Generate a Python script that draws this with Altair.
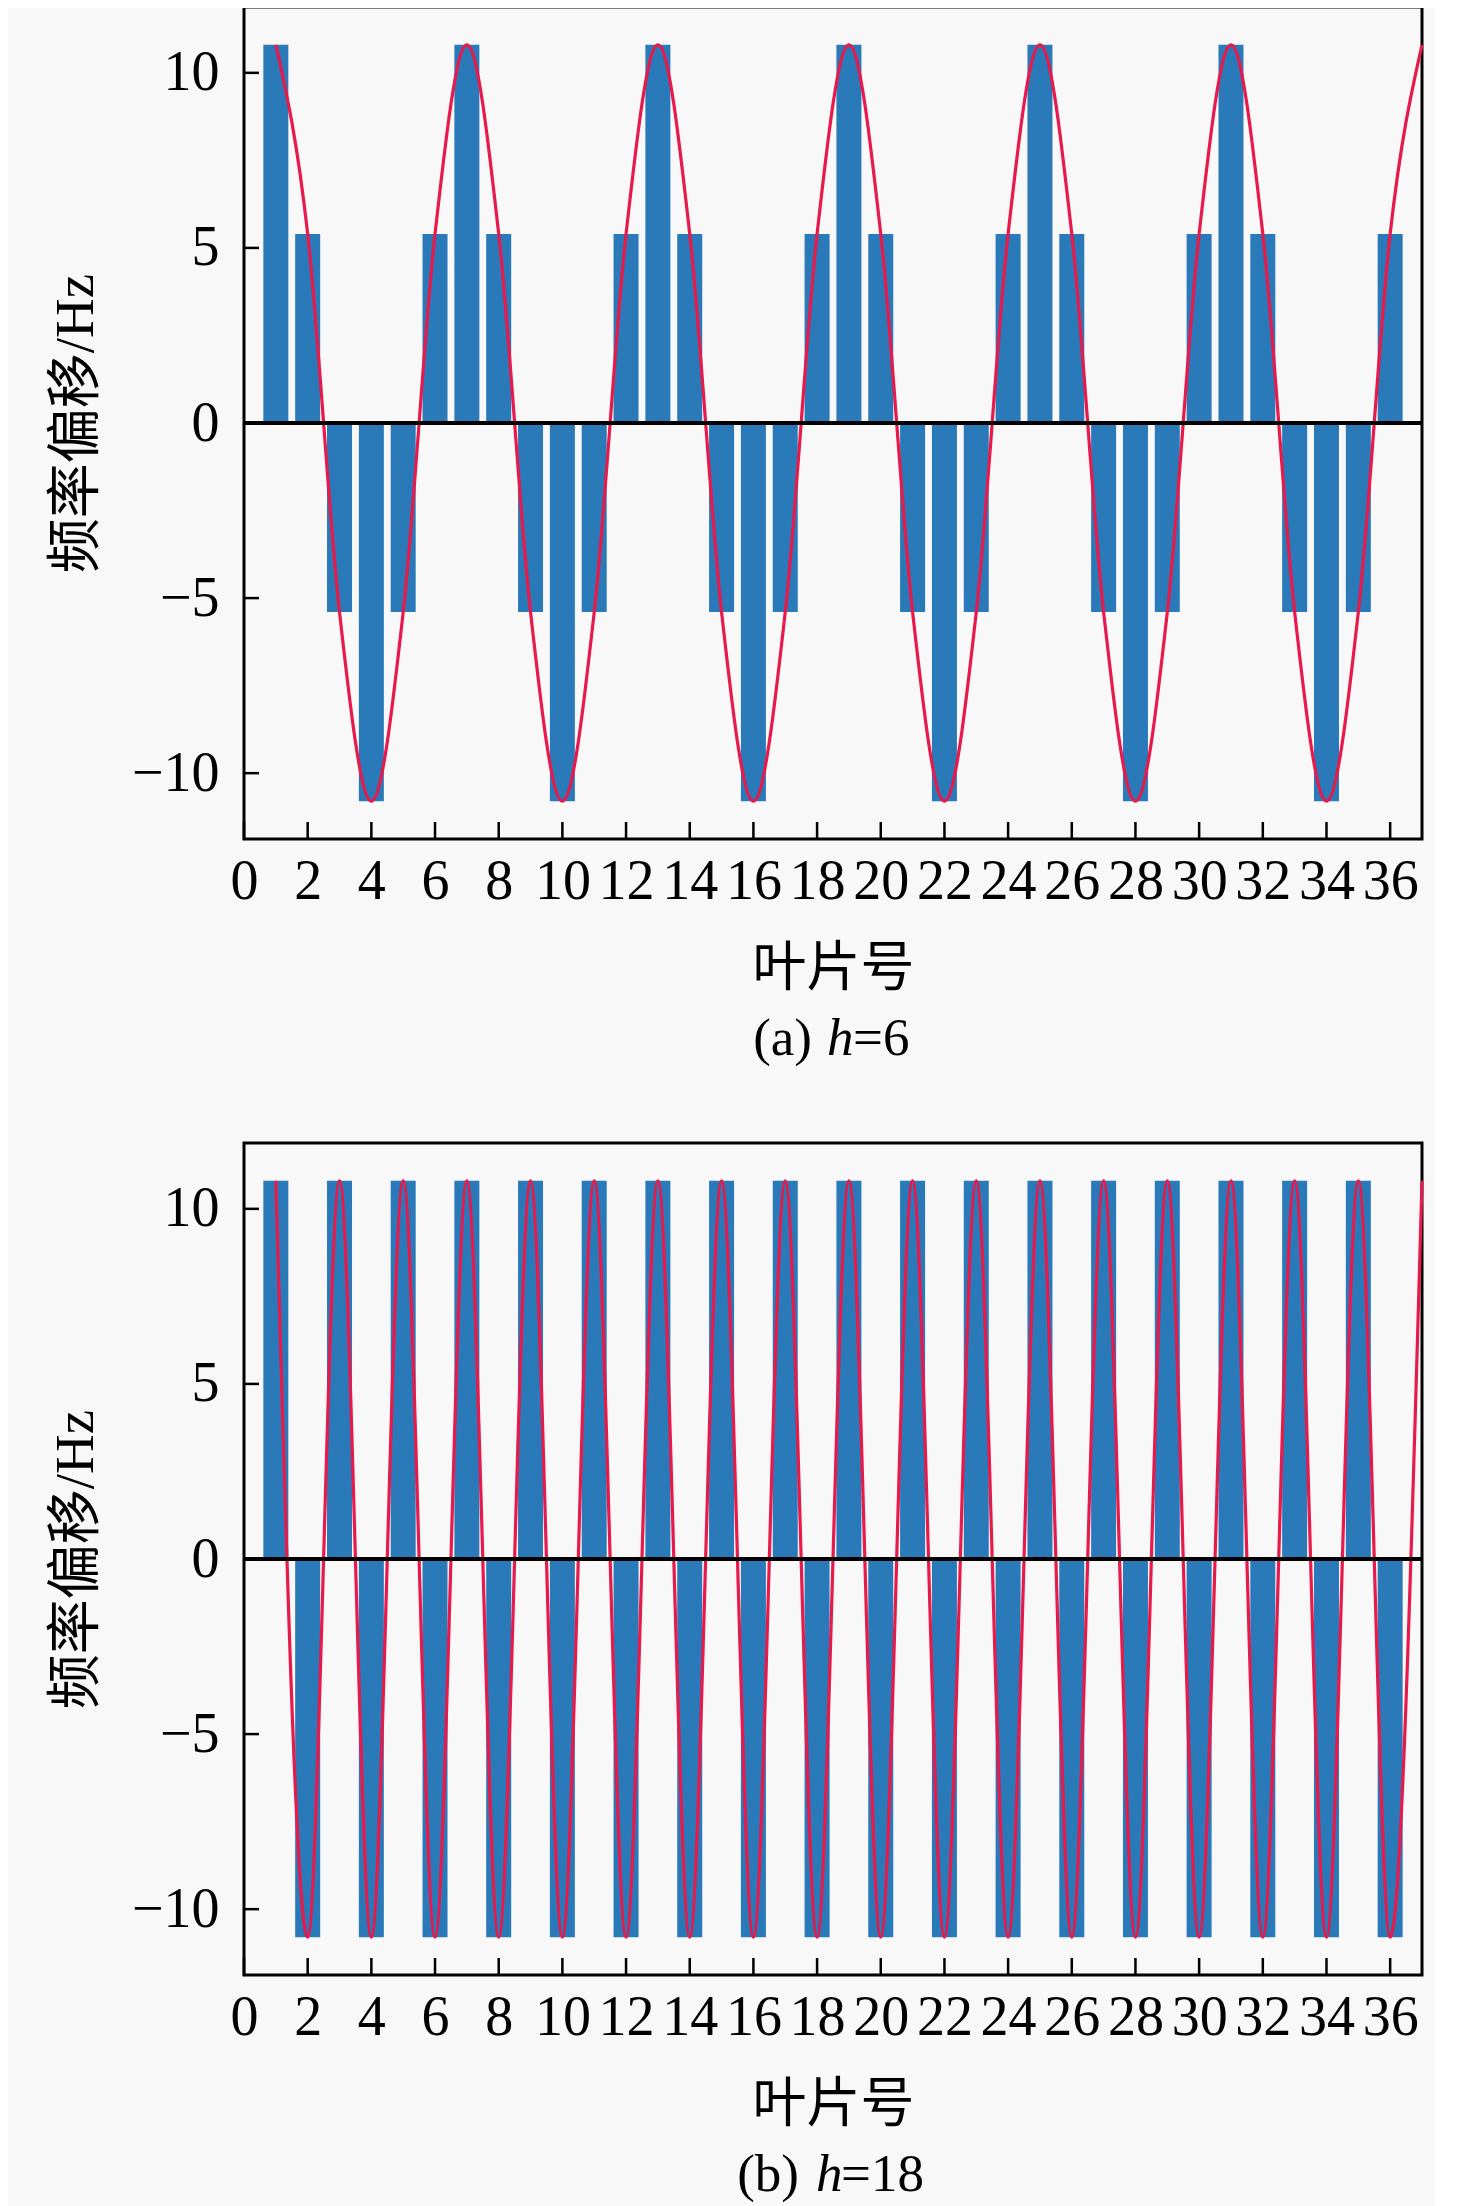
import altair as alt
import pandas as pd

# ---- data ----
blade = list(range(1, 37))
dev_h6 = [10.8, 5.4, -5.4, -10.8, -5.4, 5.4,
          10.8, 5.4, -5.4, -10.8, -5.4, 5.4,
          10.8, 5.4, -5.4, -10.8, -5.4, 5.4,
          10.8, 5.4, -5.4, -10.8, -5.4, 5.4,
          10.8, 5.4, -5.4, -10.8, -5.4, 5.4,
          10.8, 5.4, -5.4, -10.8, -5.4, 5.4]
dev_h18 = [10.8, -10.8, 10.8, -10.8, 10.8, -10.8,
           10.8, -10.8, 10.8, -10.8, 10.8, -10.8,
           10.8, -10.8, 10.8, -10.8, 10.8, -10.8,
           10.8, -10.8, 10.8, -10.8, 10.8, -10.8,
           10.8, -10.8, 10.8, -10.8, 10.8, -10.8,
           10.8, -10.8, 10.8, -10.8, 10.8, -10.8]
curve_x = list(range(1, 38))
curve_h6 = dev_h6 + [10.8]
curve_h18 = dev_h18 + [10.8]
x_ticks = list(range(0, 37, 2))
y_ticks = [-10, -5, 0, 5, 10]
cap_a = ["(a)", "h", "=6"]
cap_b = ["(b)", "h", "=18"]

SERIF = "Liberation Serif, Noto Sans CJK SC"
BLUE = "#2a79b8"
RED = "#e8194b"
W, H = 1178, 832

xs = alt.Scale(domain=[0, 37], nice=False, zero=False, padding=0)
ys = alt.Scale(domain=[-11.88, 11.88], nice=False, padding=0)


def panel(bars, curve, cap, cap_pos):
    xaxis = alt.Axis(values=x_ticks, title="叶片号", labelFontSize=56,
                     labelPadding=15, titlePadding=33, titleFontSize=54,
                     labelFlush=False, labelOverlap=False)
    yaxis = alt.Axis(values=y_ticks, title="频率偏移/Hz", labelFontSize=56,
                     labelPadding=25, titlePadding=27, titleFontSize=55)
    bdf = pd.DataFrame({"n": blade, "v": bars})
    cdf = pd.DataFrame({"n": curve_x, "v": curve})
    bar = alt.Chart(bdf).mark_bar(size=25, color=BLUE).encode(
        x=alt.X("n:Q", scale=xs, axis=xaxis),
        y=alt.Y("v:Q", scale=ys, axis=yaxis),
    )
    line = alt.Chart(cdf).mark_line(color=RED, strokeWidth=3.2,
                                    interpolate="monotone").encode(
        x=alt.X("n:Q", scale=xs), y=alt.Y("v:Q", scale=ys))
    zero = alt.Chart(pd.DataFrame({"v": [0]})).mark_rule(
        color="black", strokeWidth=4).encode(y=alt.Y("v:Q", scale=ys))
    xt = alt.Chart(pd.DataFrame({"n": x_ticks})).mark_rule(
        color="black", strokeWidth=2.5).encode(
        x=alt.X("n:Q", scale=xs), y=alt.value(H), y2=alt.value(H - 17))
    yt = alt.Chart(pd.DataFrame({"v": y_ticks})).mark_rule(
        color="black", strokeWidth=2.5).encode(
        y=alt.Y("v:Q", scale=ys), x=alt.value(0), x2=alt.value(15))
    t1 = alt.Chart(pd.DataFrame({"s": [cap[0]]})).mark_text(
        font=SERIF, fontSize=53, align="right", baseline="alphabetic",
        color="black").encode(text="s:N", x=alt.value(cap_pos[0]),
                              y=alt.value(1048))
    t2 = alt.Chart(pd.DataFrame({"s": [cap[1]]})).mark_text(
        font=SERIF, fontSize=53, fontStyle="italic", align="left",
        baseline="alphabetic", color="black").encode(
        text="s:N", x=alt.value(cap_pos[1]), y=alt.value(1048))
    t3 = alt.Chart(pd.DataFrame({"s": [cap[2]]})).mark_text(
        font=SERIF, fontSize=53, align="left", baseline="alphabetic",
        color="black").encode(text="s:N", x=alt.value(cap_pos[2]),
                              y=alt.value(1048))
    return alt.layer(bar, line, zero, xt, yt, t1, t2, t3).properties(
        width=W, height=H)


pa = panel(dev_h6, curve_h6, cap_a, (568, 583, 609))
pb = panel(dev_h18, curve_h18, cap_b, (555, 572, 597))

chart = alt.vconcat(pa, pb, spacing=304, bounds="flush").properties(
    background="#f8f8f8",
    padding={"left": 38, "top": -3, "right": 5, "bottom": 5},
).configure_axis(
    labelFont=SERIF, titleFont=SERIF, labelColor="black", titleColor="black",
    titleFontWeight="normal", ticks=False, tickSize=0, domain=False,
    grid=False,
).configure_view(stroke="black", strokeWidth=3)

chart.save("out.html", embed_options={"renderer": "svg", "actions": False})
